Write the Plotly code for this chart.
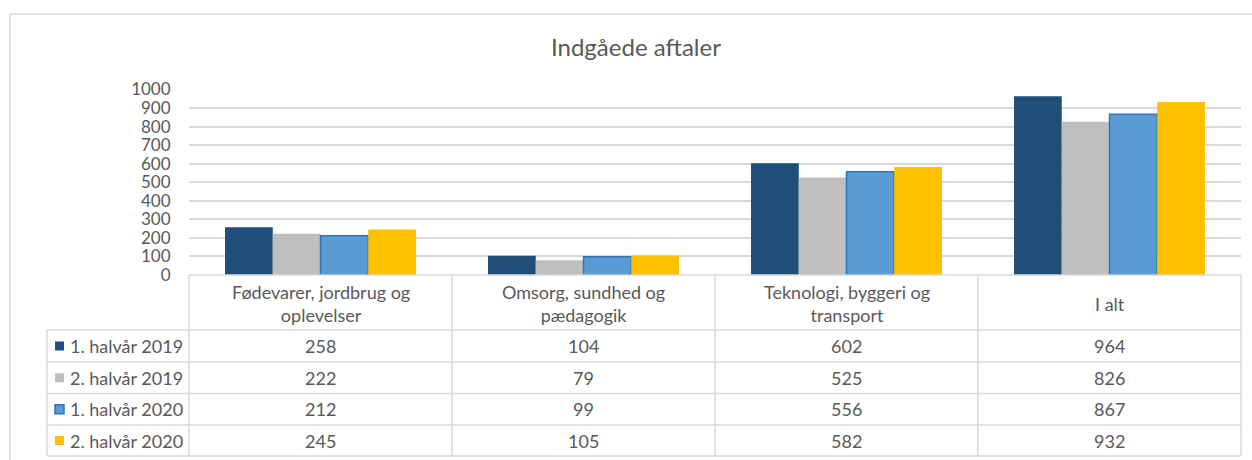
import plotly.graph_objects as go

# ---------------- data ----------------
categories = ["Fødevarer, jordbrug og<br>oplevelser", "Omsorg, sundhed og<br>pædagogik",
              "Teknologi, byggeri og<br>transport", "I alt"]
series_names = ["1. halvår 2019", "2. halvår 2019", "1. halvår 2020", "2. halvår 2020"]
h1_2019 = [258, 104, 602, 964]
h2_2019 = [222, 79, 525, 826]
h1_2020 = [212, 99, 556, 867]
h2_2020 = [245, 105, 582, 932]
series_values = [h1_2019, h2_2019, h1_2020, h2_2020]
colors = ["#1f4e79", "#bfbfbf", "#5b9bd5", "#ffc000"]
line_colors = ["#1f4e79", "#bfbfbf", "#2e75b6", "#ffc000"]
line_widths = [0, 0, 1.5, 0]
y_ticks = [0, 100, 200, 300, 400, 500, 600, 700, 800, 900, 1000]
title = "Indgåede aftaler"

# ---------------- layout helpers (pixels) ----------------
W, H = 1252, 460
FONT = "Lato, 'Open Sans', sans-serif"
TXT = "#595959"
GRID = "#d9d9d9"

def px(x):
    return x / W

def py(y):
    return 1 - y / H

plot_l, plot_r = 189, 1241
plot_t, plot_b = 89.5, 275
legend_l = 47
row_edges = [330, 362, 393.5, 425, 456]
ncat = len(categories)
col_w = (plot_r - plot_l) / ncat

fig = go.Figure()
for name, vals, c, lc, lw in zip(series_names, series_values, colors, line_colors, line_widths):
    fig.add_trace(go.Bar(x=list(range(ncat)), y=vals, name=name,
                         marker=dict(color=c, line=dict(color=lc, width=lw)),
                         showlegend=False))

shapes = []
line = dict(color=GRID, width=1.5)
# outer border
shapes.append(dict(type="line", xref="paper", yref="paper", x0=px(10), x1=px(1252), y0=py(14), y1=py(14), line=line))
shapes.append(dict(type="line", xref="paper", yref="paper", x0=px(10), x1=px(10), y0=py(14), y1=py(460), line=line))
# table horizontal lines
shapes.append(dict(type="line", xref="paper", yref="paper", x0=px(plot_l), x1=px(plot_r), y0=py(plot_b), y1=py(plot_b), line=line))
for ry in row_edges:
    shapes.append(dict(type="line", xref="paper", yref="paper", x0=px(legend_l), x1=px(plot_r), y0=py(ry), y1=py(ry), line=line))
# table vertical lines
shapes.append(dict(type="line", xref="paper", yref="paper", x0=px(legend_l), x1=px(legend_l), y0=py(row_edges[0]), y1=py(row_edges[-1]), line=line))
for i in range(ncat + 1):
    xx = plot_l + i * col_w
    shapes.append(dict(type="line", xref="paper", yref="paper", x0=px(xx), x1=px(xx), y0=py(plot_b), y1=py(row_edges[-1]), line=line))

annotations = []
annotations.append(dict(text=title, xref="paper", yref="paper", x=px(636), y=py(47), showarrow=False,
                        font=dict(family=FONT, size=24, color=TXT), xanchor="center", yanchor="middle"))
# category headers
for i, cat in enumerate(categories):
    annotations.append(dict(text=cat, xref="paper", yref="paper", x=px(plot_l + (i + 0.5) * col_w),
                            y=py((plot_b + row_edges[0]) / 2 + 1), showarrow=False,
                            font=dict(family=FONT, size=18, color=TXT), xanchor="center", yanchor="middle"))
# rows
for r, (name, vals, c, lc) in enumerate(zip(series_names, series_values, colors, line_colors)):
    yc = (row_edges[r] + row_edges[r + 1]) / 2
    shapes.append(dict(type="rect", xref="paper", yref="paper", x0=px(55), x1=px(64), y0=py(yc - 4.5), y1=py(yc + 4.5),
                       fillcolor=c, line=dict(color=lc, width=1.5 if lc != c else 0)))
    annotations.append(dict(text=name, xref="paper", yref="paper", x=px(68), y=py(yc), showarrow=False,
                            font=dict(family=FONT, size=18, color=TXT), xanchor="left", yanchor="middle"))
    for i, v in enumerate(vals):
        annotations.append(dict(text=str(v), xref="paper", yref="paper", x=px(plot_l + (i + 0.5) * col_w), y=py(yc),
                                showarrow=False, font=dict(family=FONT, size=18, color=TXT),
                                xanchor="center", yanchor="middle"))

fig.update_layout(
    width=W, height=H, autosize=False,
    margin=dict(l=0, r=0, t=0, b=0),
    paper_bgcolor="white", plot_bgcolor="white",
    barmode="group", bargap=0.274, bargroupgap=0,
    xaxis=dict(domain=[px(plot_l), px(plot_r)], range=[-0.5, ncat - 0.5], showticklabels=False,
               showgrid=False, zeroline=False, showline=False, ticks=""),
    yaxis=dict(domain=[py(plot_b), py(plot_t)], range=[0, 1000], tickvals=y_ticks,
               showgrid=True, gridcolor=GRID, gridwidth=1.5, zeroline=False, showline=False,
               ticks="outside", ticklen=14, tickcolor="rgba(0,0,0,0)", automargin=False,
               tickfont=dict(family=FONT, size=17, color=TXT)),
    shapes=shapes, annotations=annotations,
)

post = ("document.body.style.margin='0';document.body.style.padding='0';"
        "document.documentElement.style.overflow='hidden';document.body.style.overflow='hidden';")
fig.write_html("out.html", post_script=post, config={"displayModeBar": False})
